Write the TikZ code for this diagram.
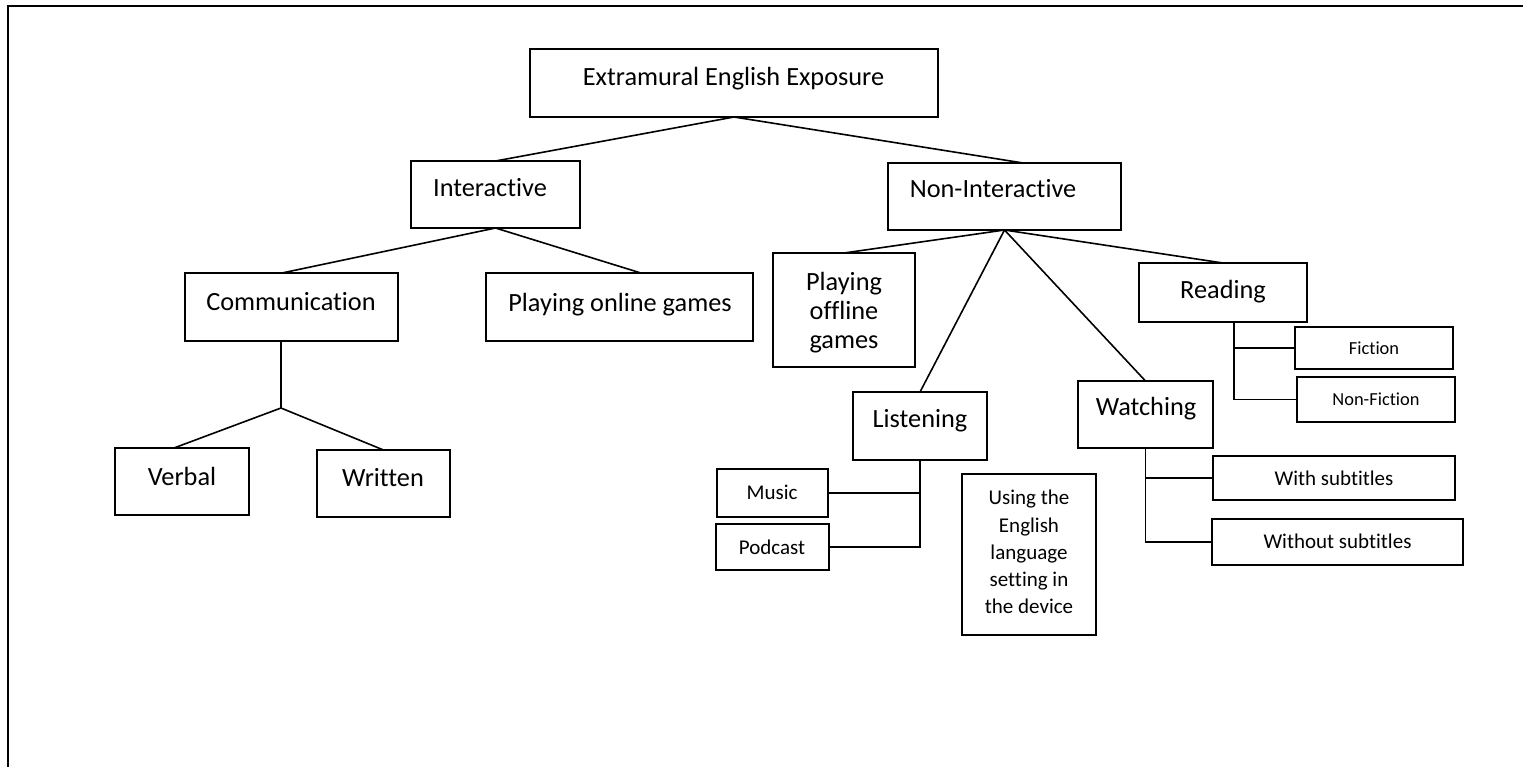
\documentclass[tikz,border=0pt]{standalone}
\usepackage{fontspec}
\setmainfont[Ligatures={NoCommon}]{Carlito}
\usetikzlibrary{calc}
\tikzset{
  bx/.style={draw=black, line width=1.1pt, rectangle, inner sep=0pt, outer sep=0pt},
  tx/.style={inner sep=0pt, outer sep=0pt, anchor=base, font=\fontsize{26.3}{30}\selectfont},
  txm/.style={tx, font=\fontsize{21}{25}\selectfont},
  txs/.style={tx, font=\fontsize{18.4}{22}\selectfont},
  cn/.style={draw=black, line width=1.6pt},
  frame/.style={draw=black, line width=2pt}
}
\newcommand{\mkbox}[5]{\node[bx, minimum width=#4pt, minimum height=#5pt] (#1) at (#2,#3) {};}
\begin{document}
\begin{tikzpicture}[x=1pt,y=-1pt]
\useasboundingbox (0,0) rectangle (1523,766);
\fill[white] (0,0) rectangle (1523,766);
% outer frame (only top and left edges lie inside the picture)
\draw[frame] (8.3,790) -- (8.3,5.7) -- (1540,5.7);

% boxes
\mkbox{root}{734}{83}{408}{68}
\mkbox{inter}{495.5}{194.5}{169}{67}
\mkbox{nonint}{1004.5}{196.5}{233}{67}
\mkbox{comm}{291.5}{307}{213}{68}
\mkbox{online}{619.5}{307}{267}{68}
\mkbox{offline}{844}{310}{142}{114}
\mkbox{reading}{1223}{292.5}{168}{59}
\mkbox{fiction}{1374}{348}{158}{42}
\mkbox{nonfic}{1376}{399.5}{158}{45}
\mkbox{listen}{920}{426}{134}{68}
\mkbox{watch}{1145.5}{414.5}{135}{67}
\mkbox{verbal}{182}{481.5}{134}{67}
\mkbox{written}{383.5}{483.5}{133}{67}
\mkbox{music}{772.5}{493}{111}{48}
\mkbox{podcast}{772.5}{547}{113}{46}
\mkbox{using}{1029}{554.5}{134}{161}
\mkbox{withsub}{1334}{478}{242}{44}
\mkbox{withoutsub}{1337.5}{542}{251}{46}

% texts
\node[tx] (rootT) at (733.5,85.5) {Extramural English Exposure};
\node[tx] (interT) at (490,196.5) {Interactive};
\node[tx] (nonintT) at (993,197.5) {Non-Interactive};
\node[tx] (commT) at (291,310.5) {Communication};
\node[tx] (onlineT) at (620,311.5) {Playing online games};
\node[tx] (offlineT1) at (844,290.5) {Playing};
\node[tx] (offlineT2) at (844,319.5) {offline};
\node[tx] (offlineT3) at (844,348.5) {games};
\node[tx] (readingT) at (1223,298.5) {Reading};
\node[txs] (fictionT) at (1374,354.9) {Fiction};
\node[txs] (nonficT) at (1376,405.9) {Non-Fiction};
\node[tx] (listenT) at (920,427.5) {Listening};
\node[tx] (watchT) at (1146,415.5) {Watching};
\node[tx] (verbalT) at (182,485.5) {Verbal};
\node[tx] (writtenT) at (383,486.5) {Written};
\node[txm] (musicT) at (772,499.8) {Music};
\node[txm] (podcastT) at (772,554.8) {Podcast};
\node[txm] (usingT1) at (1029,504.8) {Using the};
\node[txm] (usingT2) at (1029,532.8) {English};
\node[txm] (usingT3) at (1029,559.8) {language};
\node[txm] (usingT4) at (1029,586.8) {setting in};
\node[txm] (usingT5) at (1029,613.8) {the device};
\node[txm] (withsubT) at (1334,485.8) {With subtitles};
\node[txm] (withoutsubT) at (1337.5,548.8) {Without subtitles};

% connectors
\draw[cn] (root.south) -- (inter.north);
\draw[cn] (root.south) -- ($(nonint.north west)!0.58!(nonint.north east)$);
\draw[cn] (inter.south) -- ($(comm.north west)!0.455!(comm.north east)$);
\draw[cn] (inter.south) -- ($(online.north west)!0.58!(online.north east)$);
\draw[cn] (nonint.south) -- (offline.north);
\draw[cn] (nonint.south) -- (listen.north);
\draw[cn] (nonint.south) -- (watch.north);
\draw[cn] (nonint.south) -- (reading.north);

\coordinate (cjunc) at (281,408);
\draw[cn] (comm.south -| cjunc) -- (cjunc);
\draw[cn] (cjunc) -- ($(verbal.north west)!0.44!(verbal.north east)$);
\draw[cn] (cjunc) -- (written.north);

\draw[cn] (listen.south) |- (podcast.east);
\draw[cn] (music.east) -- (music.east -| listen.south);

\coordinate (rjunc) at ($(reading.south west)!0.565!(reading.south east)$);
\draw[cn] (rjunc) |- (nonfic.west);
\draw[cn] (fiction.west) -- (fiction.west -| rjunc);

\draw[cn] (watch.south) |- (withoutsub.west);
\draw[cn] (withsub.west) -- (withsub.west -| watch.south);
\end{tikzpicture}
\end{document}
